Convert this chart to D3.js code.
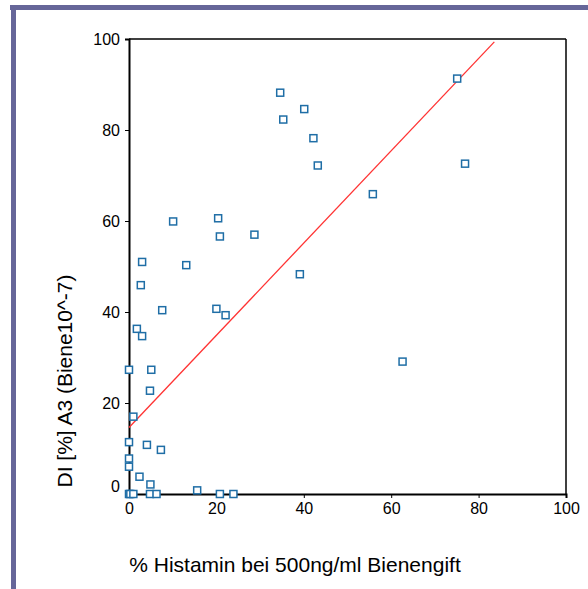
<!DOCTYPE html>
<html>
<head>
<meta charset="utf-8">
<script src="https://cdn.jsdelivr.net/npm/d3@7"></script>
<style>
  body { margin: 0; background: #fff; }
  svg { display: block; font-family: "Liberation Sans", Arial, sans-serif; }
</style>
</head>
<body>
<script>
'use strict';

// values
const histamin = [34.6, 40.1, 35.3, 42.2, 43.2, 55.8, 75.1, 76.9, 28.7,
  10.1, 20.4, 20.8, 3.0, 13.1, 2.7, 7.6, 20.0, 22.1, 1.8, 3.0, 39.1, 62.6,
  0, 5.1, 4.8, 1.0, 0, 4.1, 7.3, 0, 0, 2.4, 4.9, 15.6,
  0, 0.3, 1.0, 4.8, 6.3, 20.8, 23.9];
const di = [88.2, 84.6, 82.3, 78.2, 72.2, 65.9, 91.3, 72.6, 57.0,
  59.9, 60.6, 56.6, 51.0, 50.3, 45.9, 40.4, 40.7, 39.3, 36.3, 34.7, 48.3, 29.1,
  27.3, 27.3, 22.7, 17.0, 11.4, 10.8, 9.7, 7.8, 6.0, 3.8, 2.1, 0.8,
  0, 0, 0, 0, 0, 0, 0];
const xTicks = [0, 20, 40, 60, 80, 100];
const yTicks = [0, 20, 40, 60, 80, 100];
const fitIntercept = 14.6;
const fitSlope = 1.014;
const fitRange = [0, 83.6];

const svg = d3.select('body').append('svg')
  .attr('width', 588)
  .attr('height', 589);

// purple frame on top and left
svg.append('rect').attr('x', 10).attr('y', 5).attr('width', 578).attr('height', 5).attr('fill', '#666699');
svg.append('rect').attr('x', 11).attr('y', 5).attr('width', 5).attr('height', 584).attr('fill', '#666699');

const x = d3.scaleLinear().domain([0, 100]).range([129, 566]);
const y = d3.scaleLinear().domain([0, 100]).range([494, 39]);

// x axis
const gx = svg.append('g')
  .attr('transform', 'translate(0,494)')
  .call(d3.axisBottom(x).tickValues(xTicks).tickSize(4).tickPadding(5));
gx.select('.domain').attr('stroke-width', 2);
gx.selectAll('text').style('font-size', '16px').attr('fill', '#000');

// y axis
const gy = svg.append('g')
  .attr('transform', 'translate(129,0)')
  .call(d3.axisLeft(y).tickValues(yTicks).tickSize(4).tickPadding(5));
gy.select('.domain').attr('stroke-width', 2);
gy.selectAll('text').style('font-size', '16px').attr('fill', '#000');
gy.selectAll('.tick').filter(d => d === 0).attr('transform', 'translate(0,' + (y(0) - 7) + ')')
  .select('line').remove();

// top and right frame of the plot
svg.append('line').attr('x1', x(0)).attr('x2', x(100)).attr('y1', y(100)).attr('y2', y(100))
  .attr('stroke', '#000').attr('stroke-width', 1.5);
svg.append('line').attr('x1', x(100)).attr('x2', x(100)).attr('y1', y(100)).attr('y2', y(0))
  .attr('stroke', '#000').attr('stroke-width', 1.5);

// regression line
svg.append('line')
  .attr('x1', x(fitRange[0])).attr('y1', y(fitIntercept + fitSlope * fitRange[0]))
  .attr('x2', x(fitRange[1])).attr('y2', y(fitIntercept + fitSlope * fitRange[1]))
  .attr('stroke', '#ff3333').attr('stroke-width', 1.3);

// points
svg.append('g').selectAll('rect')
  .data(histamin)
  .enter()
  .append('rect')
  .attr('x', d => x(d) - 3.5)
  .attr('y', (d, i) => y(di[i]) - 3.5)
  .attr('width', 7)
  .attr('height', 7)
  .attr('fill', '#fff')
  .attr('stroke', '#1f6ea6')
  .attr('stroke-width', 1.5);

// axis titles
svg.append('text')
  .attr('x', 295).attr('y', 572)
  .attr('text-anchor', 'middle')
  .style('font-size', '21px')
  .text('% Histamin bei 500ng/ml Bienengift');

svg.append('text')
  .attr('transform', 'translate(72,381)rotate(-90)')
  .attr('text-anchor', 'middle')
  .style('font-size', '21px')
  .text('DI [%] A3 (Biene10^-7)');
</script>
</body>
</html>
